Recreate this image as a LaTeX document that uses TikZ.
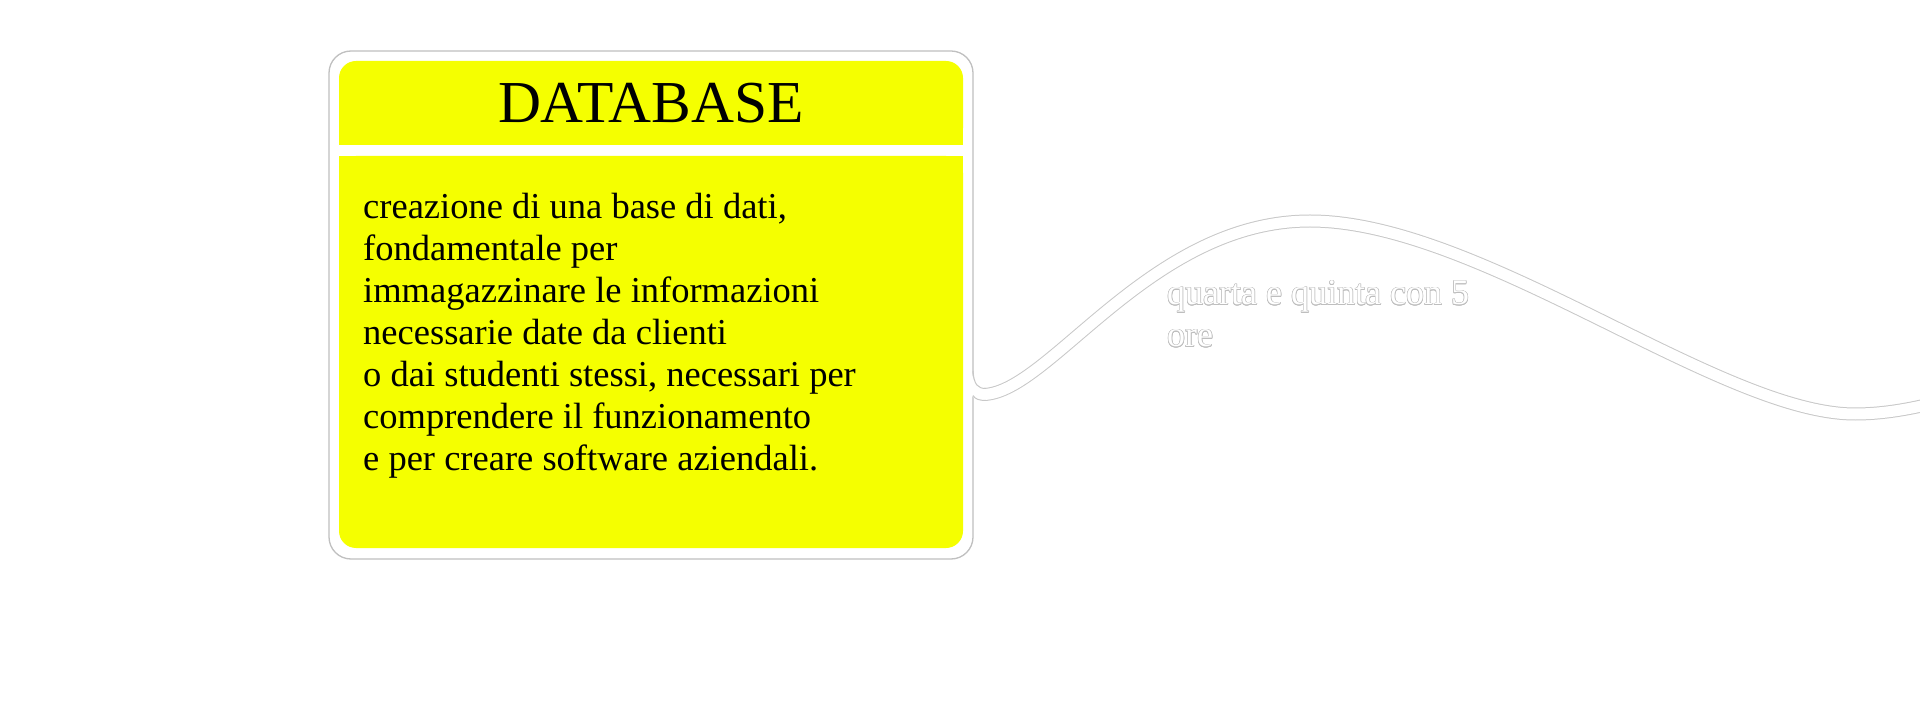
\documentclass[tikz,border=0pt]{standalone}
\usepackage{fontspec}
\setmainfont{Liberation Serif}
\usetikzlibrary{calc}
\definecolor{dbyellow}{RGB}{245,255,0}
\definecolor{edgegray}{RGB}{192,192,192}
\definecolor{ribgray}{RGB}{200,200,200}
\definecolor{txtgray}{RGB}{190,190,190}
\begin{document}
\begin{tikzpicture}[x=1pt,y=-1pt,
  outerbox/.style={draw=edgegray, line width=1.3pt, fill=white, rounded corners=22pt, inner sep=0pt, minimum width=644pt, minimum height=508pt},
  panel/.style={fill=dbyellow},
  titletext/.style={font=\fontsize{59.5}{66}\selectfont, anchor=base, inner sep=0pt},
  bodytext/.style={font=\fontsize{36.5}{42}\selectfont, align=left, anchor=base west, inner sep=0pt},
  qtext/.style={font=\fontsize{36}{42}\selectfont, align=left, anchor=base west, inner sep=0pt},
  ribbon/.style={draw=ribgray, line width=1pt, double=white, double distance=11pt},
  rimline/.style={draw=ribgray, line width=1pt}
]
\fill[white] (0,0) rectangle (1920,708);
\useasboundingbox (0,0) rectangle (1920,708);
% main box
\node[outerbox] (db) at (651,305) {};
% header panel: rounded top, square bottom
\fill[panel, rounded corners=17pt] (339,61) rectangle (963,145);
\fill[panel] (339,110) rectangle (963,145);
% body panel: square top, rounded bottom
\fill[panel, rounded corners=17pt] (339,156) rectangle (963,548);
\fill[panel] (339,156) rectangle (963,200);
\node[titletext] (title) at (651,123) {DATABASE};
% base anchor of a multi-line node = baseline of its last line
\node[bodytext] (desc) at (363,470) {creazione di una base di dati,\\fondamentale per\\immagazzinare le informazioni\\necessarie date da clienti\\o dai studenti stessi, necessari per\\comprendere il funzionamento\\e per creare software aziendali.};
% ribbon connector
\coordinate (r0) at (984,394.5);
\coordinate (r1) at (1310,221);
\coordinate (r2) at (1855,414);
\coordinate (r3) at (1930,404);
\draw[ribbon] (r0) .. controls (1050,392) and (1150,221) .. (r1) .. controls (1480,221) and (1720,414) .. (r2) .. controls (1880,414) and (1905,410) .. (r3);
\fill[white] (971.5,371) .. controls (974,385) and (978,388.5) .. (986,388.5) -- (986,400.5) .. controls (979,400.5) and (975,399) .. (971.5,395.5) -- cycle;
\draw[rimline] (973,371) .. controls (974,385) and (978,388.5) .. (986,388.5);
\draw[rimline] (973,395.5) .. controls (975,399) and (979,400.5) .. (986,400.5);
% outlined label
\coordinate (qpos) at (1167,347);
\foreach \a in {0,30,...,330} \node[qtext, text=txtgray] at ($(qpos)+(\a:0.6)$) {quarta e quinta con 5\\ore};
\node[qtext, text=white] (quarta) at (qpos) {quarta e quinta con 5\\ore};
\end{tikzpicture}
\end{document}
